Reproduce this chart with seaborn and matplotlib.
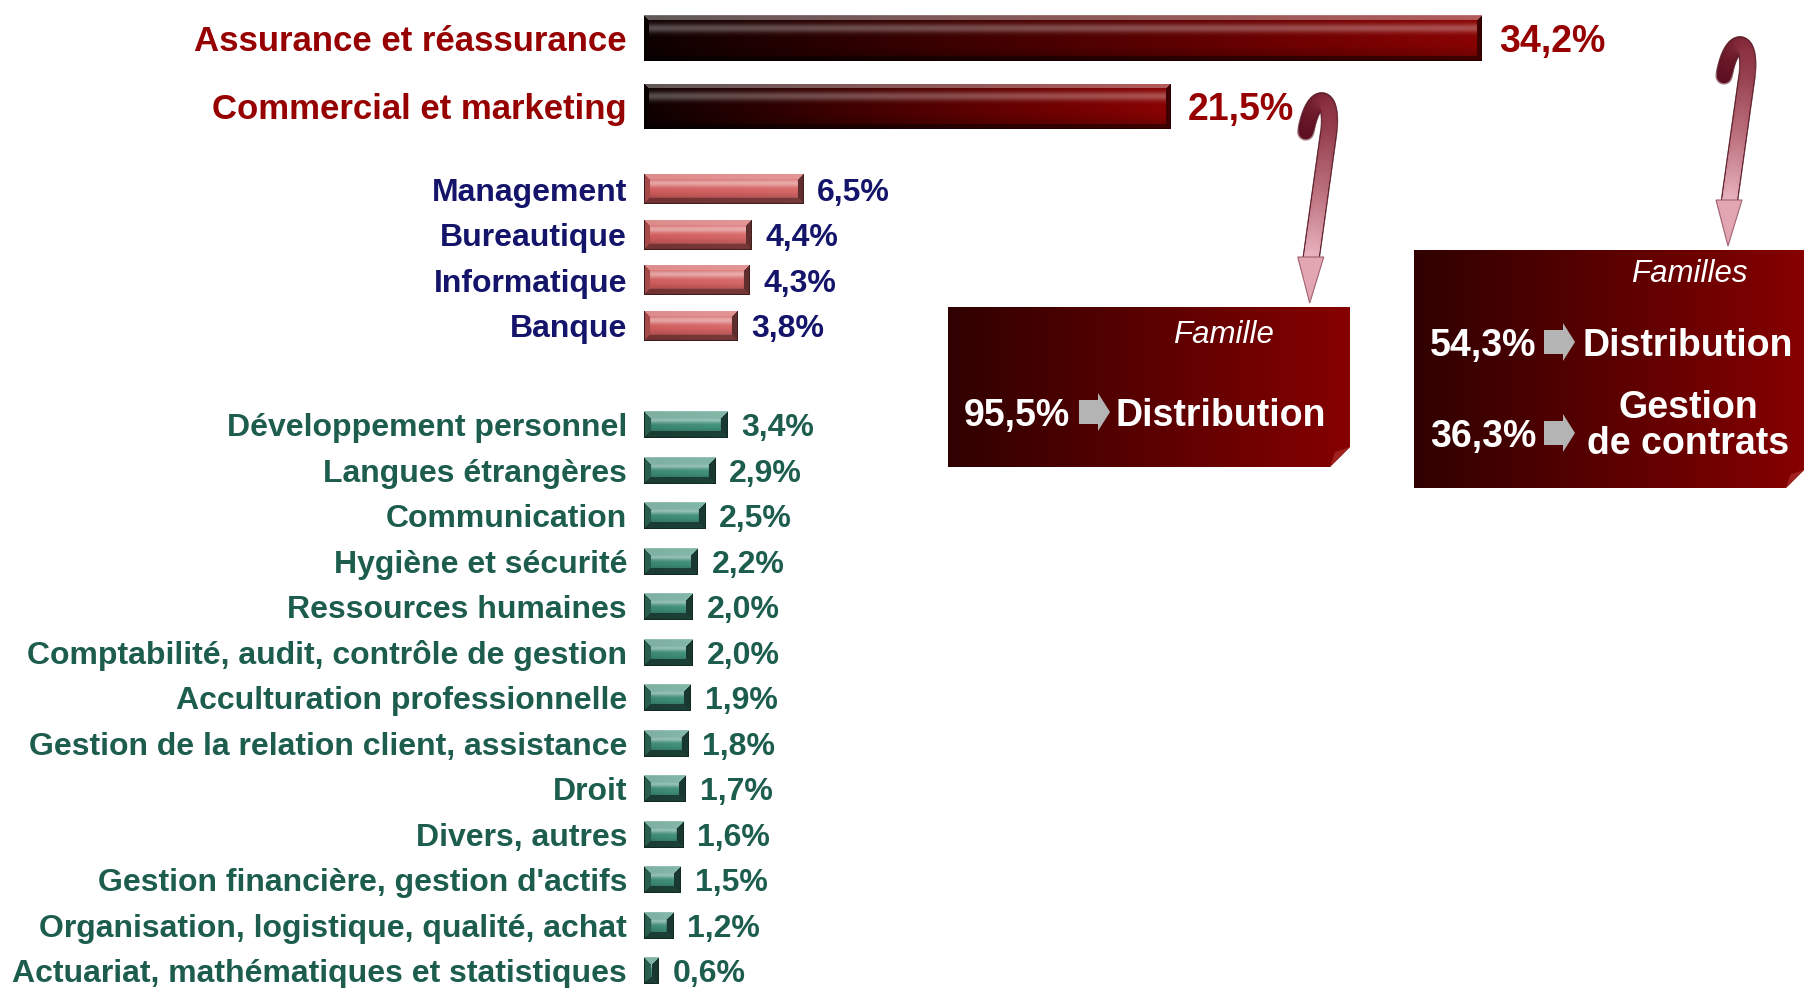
import numpy as np
import matplotlib
matplotlib.use("Agg")
import matplotlib.pyplot as plt
import seaborn as sns
from matplotlib.patches import Polygon
from matplotlib.collections import LineCollection
from matplotlib.colors import to_rgb
from matplotlib import font_manager

# ---------------- data ----------------
top_labels = ["Assurance et réassurance", "Commercial et marketing"]
top_values = [34.2, 21.5]
mid_labels = ["Management", "Bureautique", "Informatique", "Banque"]
mid_values = [6.5, 4.4, 4.3, 3.8]
low_labels = ["Développement personnel", "Langues étrangères", "Communication",
              "Hygiène et sécurité", "Ressources humaines",
              "Comptabilité, audit, contrôle de gestion",
              "Acculturation professionnelle",
              "Gestion de la relation client, assistance", "Droit",
              "Divers, autres", "Gestion financière, gestion d'actifs",
              "Organisation, logistique, qualité, achat",
              "Actuariat, mathématiques et statistiques"]
low_values = [3.4, 2.9, 2.5, 2.2, 2.0, 2.0, 1.9, 1.8, 1.7, 1.6, 1.5, 1.2, 0.6]

box1_title = "Famille"
box1_pcts = ["95,5%"]
box1_names = ["Distribution"]
box2_title = "Familles"
box2_pcts = ["54,3%", "36,3%"]
box2_names = ["Distribution", "Gestion\nde contrats"]

# ---------------- layout ----------------
W, H = 1804, 988
K = 24.5      # pixels per percent
X0 = 644      # pixel of the zero line
ROW = 45.5    # pixels per row unit
Y0 = 38       # pixel of first row
TXT_DY = 3.5  # small downward nudge of centred text, pixels

sns.set_style("white")
plt.rcParams["font.family"] = ["Liberation Sans", "DejaVu Sans"]

installed = {f.name for f in font_manager.fontManager.ttflist}
if "Liberation Sans Narrow" in installed:
    narrow_family, narrow_fs = ["Liberation Sans Narrow", "Liberation Sans"], 32
else:
    narrow_family, narrow_fs = ["Liberation Sans", "DejaVu Sans"], 27

fig = plt.figure(figsize=(W / 100, H / 100), dpi=100)
ax = fig.add_axes([0, 0, 1, 1])
ax.set_axis_off()

pos_top = np.array([0.0, 1.5])
pos_mid = 3.32 + np.arange(len(mid_values))
pos_low = 8.5 + np.arange(len(low_values))


def fmt(v):
    return f"{v:.1f}".replace(".", ",") + "%"


def mix(c, t):
    c = np.asarray(c, float)
    t = np.asarray(t, float)[..., None]
    return np.where(t >= 0, c + (1 - c) * t, c * (1 + t))


def bevel_image(nw, nh, base_u, b, face_profile, bev):
    u = np.linspace(0, 1, nw)
    v = np.linspace(0, 1, nh)
    base = base_u(u)
    img = np.tile(base[None, :, :], (nh, 1, 1))
    rows = np.arange(nh)[:, None] * np.ones((1, nw))
    cols = np.ones((nh, 1)) * np.arange(nw)[None, :]
    d = np.stack([rows, nh - 1 - rows, cols, nw - 1 - cols])
    which = np.argmin(d, axis=0)
    dmin = np.min(d, axis=0)
    t = np.tile(face_profile(v)[:, None], (1, nw))
    for i, val in enumerate(bev):
        m = (dmin < b) & (which == i)
        t[m] = val
    edge = dmin < 1
    t[edge] = np.where(which[edge] == 0, 0.45, -0.7)
    return np.clip(mix(img, t), 0, 1)


def grad(stops):
    pos = [s[0] for s in stops]
    cols = np.array([to_rgb(s[1]) for s in stops])

    def f(u):
        return np.stack([np.interp(u, pos, cols[:, k]) for k in range(3)], axis=1)
    return f


def face_top(v):
    return (0.30 * np.exp(-((v - 0.28) / 0.10) ** 2) - 0.25 * np.clip((v - 0.65) / 0.35, 0, 1))


def face_soft(v):
    return (0.45 * np.exp(-((v - 0.32) / 0.12) ** 2) - 0.30 * np.clip((v - 0.6) / 0.4, 0, 1))


groups = [
    dict(labels=top_labels, values=top_values, pos=pos_top, h=1.0, tcol="#960000",
         lfs=25, vfs=narrow_fs, vfam=narrow_family, gap=17, b=5,
         bev=(0.35, -0.55, -0.25, -0.55),
         base=grad([(0, "#0e0000"), (0.35, "#3a0000"), (0.75, "#6c0000"), (1, "#8a0303")]),
         face=face_top),
    dict(labels=mid_labels, values=mid_values, pos=pos_mid, h=0.66, tcol="#14146b",
         lfs=23, vfs=23, vfam=None, gap=14, b=6, bev=(0.30, -0.45, -0.2, -0.55),
         base=grad([(0, "#cf5b5b"), (1, "#d86868")]), face=face_soft),
    dict(labels=low_labels, values=low_values, pos=pos_low, h=0.59, tcol="#1d5d4e",
         lfs=23, vfs=23, vfam=None, gap=14, b=7, bev=(0.35, -0.55, -0.3, -0.6),
         base=grad([(0, "#3a8570"), (1, "#40917a")]), face=face_soft),
]

for g in groups:
    n0 = len(ax.patches)
    pos = np.asarray(g["pos"], float)
    native = np.min(np.diff(pos))
    sns.barplot(x=g["values"], y=pos, orient="h", native_scale=True,
                width=g["h"] / native, color=g["base"](np.array([0.5]))[0],
                saturation=1, errorbar=None, linewidth=0, ax=ax)
    for p in ax.patches[n0:]:
        x, y = p.get_x(), p.get_y()
        w, h = p.get_width(), p.get_height()
        nw = max(int(round(w * K)), 3)
        nh = max(int(round(h * ROW)), 3)
        img = bevel_image(nw, nh, g["base"], g["b"], g["face"], g["bev"])
        im = ax.imshow(img, extent=(x, x + w, y + h, y), origin="upper",
                       aspect="auto", interpolation="bilinear", zorder=3)
        im.set_clip_path(p)
    for lab, v, y in zip(g["labels"], g["values"], pos):
        ty = y + TXT_DY / ROW
        ax.text(-17 / K, ty, lab, ha="right", va="center", fontsize=g["lfs"],
                fontweight="bold", color=g["tcol"])
        kw = {"family": g["vfam"]} if g["vfam"] else {}
        ax.text(v + g["gap"] / K, ty, fmt(v), ha="left", va="center",
                fontsize=g["vfs"], fontweight="bold", color=g["tcol"], **kw)

ax.set_xlim(-X0 / K, (W - X0) / K)
ax.set_ylim((H - Y0) / ROW, -Y0 / ROW)
ax.set_xlabel("")
ax.set_ylabel("")

# ---------------- overlay (annotations, pixel coords) ----------------
ov = fig.add_axes([0, 0, 1, 1], facecolor="none")
ov.set_xlim(0, W)
ov.set_ylim(H, 0)
ov.set_axis_off()


def box(x0, x1, y0, y1, cut):
    poly = Polygon([(x0, y0), (x1, y0), (x1, y1 - cut), (x1 - cut, y1), (x0, y1)],
                   closed=True, facecolor="none", edgecolor="none")
    ov.add_patch(poly)
    f = grad([(0, "#300000"), (0.45, "#560000"), (1, "#860000")])
    img = np.tile(f(np.linspace(0, 1, 300))[None, :, :], (4, 1, 1))
    im = ov.imshow(img, extent=(x0, x1, y1, y0), aspect="auto",
                   interpolation="bilinear", zorder=2)
    im.set_clip_path(poly)
    ov.add_patch(Polygon([(x1, y1 - cut), (x1 - cut, y1), (x1 - cut * 0.75, y1 - cut * 0.75)],
                         closed=True, facecolor="#a02020", edgecolor="none", zorder=3))


def block_arrow(x, y):
    ov.add_patch(Polygon([(x, y - 12), (x + 19, y - 12), (x + 19, y - 19), (x + 31, y),
                          (x + 19, y + 19), (x + 19, y + 12), (x, y + 12)],
                         closed=True, facecolor="#b4b4b4", edgecolor="none", zorder=4))


def curved_arrow(x, ytop, ybox):
    t = np.linspace(0, 1, 30)
    P = np.array([(x - 16, ytop + 38), (x - 9, ytop - 4), (x + 12, ytop - 3), (x + 7, ytop + 38)])
    hook = ((1 - t) ** 3)[:, None] * P[0] + (3 * (1 - t) ** 2 * t)[:, None] * P[1] + \
           (3 * (1 - t) * t ** 2)[:, None] * P[2] + (t ** 3)[:, None] * P[3]
    s = np.linspace(0, 1, 60)[1:]
    x_a, y_a = x + 7, ytop + 38
    x_b, y_b = x - 11, ybox - 46
    shaft = np.column_stack([x_a + (x_b - x_a) * s, y_a + (y_b - y_a) * s])
    pts = np.vstack([hook, shaft])
    segs = np.stack([pts[:-1], pts[1:]], axis=1)
    cmap = grad([(0, "#5e1020"), (0.25, "#8a3040"), (0.7, "#bf7582"), (1, "#e6b0bc")])
    cols = cmap(np.linspace(0, 1, len(segs)))
    ov.add_collection(LineCollection(segs, colors="#5a1a26", linewidths=12.5,
                                     capstyle="round", zorder=5, alpha=0.55))
    ov.add_collection(LineCollection(segs, colors=cols, linewidths=10.5,
                                     capstyle="round", zorder=5))
    hx = x_b
    ov.add_patch(Polygon([(hx - 13, ybox - 50), (hx + 13, ybox - 50), (hx - 1, ybox - 4)],
                         closed=True, facecolor="#e2a6b2", edgecolor="#a06070",
                         linewidth=0.8, zorder=6))


# box 1
b1 = (948, 1350, 307, 467)
box(*b1, cut=20)
ov.text(1223, 331 + TXT_DY, box1_title, ha="center", va="center", fontsize=22.5,
        style="italic", color="white", zorder=6)
for pc, nm, yy in zip(box1_pcts, box1_names, [412]):
    ov.text(964, yy + TXT_DY, pc, ha="left", va="center", fontsize=27, fontweight="bold",
            color="white", zorder=6)
    block_arrow(1079, yy)
    ov.text(1221, yy + TXT_DY, nm, ha="center", va="center", fontsize=27, fontweight="bold",
            color="white", zorder=6)

# box 2
b2 = (1414, 1804, 250, 488)
box(*b2, cut=18)
ov.text(1689, 270 + TXT_DY, box2_title, ha="center", va="center", fontsize=22.5,
        style="italic", color="white", zorder=6)
for pc, nm, yy, ty in zip(box2_pcts, box2_names, [342, 433], [342, 422]):
    ov.text(1430, yy + TXT_DY, pc, ha="left", va="center", fontsize=27, fontweight="bold",
            color="white", zorder=6)
    block_arrow(1544, yy)
    ov.text(1688, ty + TXT_DY, nm, ha="center", va="center", fontsize=27, fontweight="bold",
            color="white", linespacing=1.0, zorder=6)

# connecting arrows (placed right of the value labels)
arrow1_x = X0 + top_values[1] * K + 17 + 106 + 28
curved_arrow(arrow1_x, 94, b1[2])
curved_arrow(1740, 38, b2[2])

fig.savefig("out.png", dpi=100)
